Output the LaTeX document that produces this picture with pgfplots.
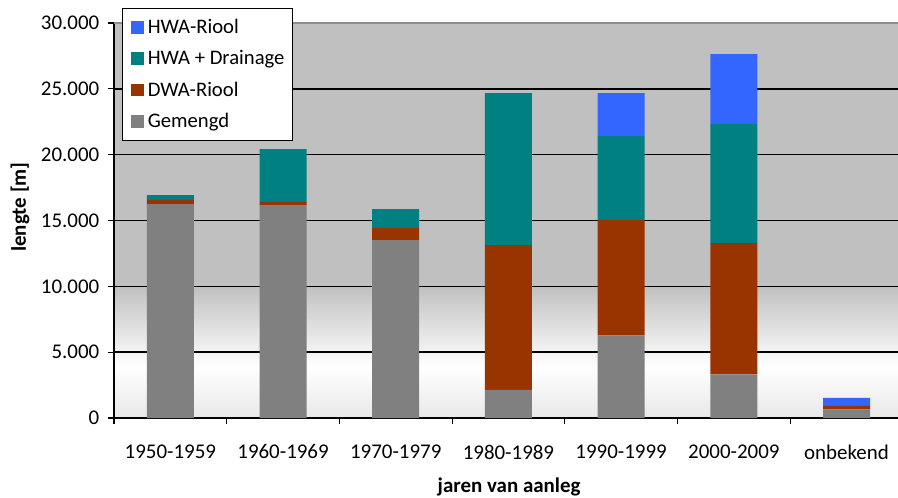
\documentclass[border=0pt]{standalone}
\usepackage{fontspec}
\setmainfont{Carlito}
\usepackage{pgfplots}
\pgfplotsset{compat=1.18}

\definecolor{hwariool}{HTML}{3366FF}
\definecolor{hwadrain}{HTML}{008080}
\definecolor{dwariool}{HTML}{993300}
\definecolor{gemengd}{HTML}{808080}
\definecolor{bggray}{HTML}{C0C0C0}
\definecolor{bglow}{HTML}{E8E8E8}

% background: light gray at 0, white near 4000, gray from 10000 up
\pgfdeclareverticalshading{bgshade}{100bp}{color(0bp)=(bglow); color(25bp)=(bglow);
  color(31.5bp)=(white); color(41.7bp)=(bggray); color(100bp)=(bggray)}

\begin{document}
\begin{tikzpicture}
\begin{axis}[
 name=ax,anchor=south west,
 scale only axis,width=588pt,height=296.25pt,
 xmin=-0.5,xmax=6.457,ymin=0,ymax=30000,
 axis background/.style={shading=bgshade},
 ybar stacked,bar width=0.417,
 axis lines=left,axis line style={-,black,line width=1pt},
 tick align=outside,tick pos=left,
 font=\fontsize{15.7}{18}\selectfont,
 xtick={0,...,6},
 xticklabels={1950-1959,1960-1969,1970-1979,1980-1989,1990-1999,2000-2009,onbekend},
 major x tick style={draw=none},
 minor xtick={-0.5,0.5,...,5.5},
 minor tick length=4.5pt,
 minor x tick style={black,line width=0.8pt},
 xticklabel shift=12pt,
 ytick={0,5000,...,25000},
 extra y ticks={30000},
 extra y tick style={grid style={black!45,line width=1.2pt}},
 ymajorgrids,grid style={black,line width=1.2pt},
 major tick length=4.5pt,
 y tick style={black,line width=0.8pt},
 yticklabel shift=3pt,
 scaled y ticks=false,
 /pgf/number format/.cd,1000 sep={.},assume math mode=true,
 /pgfplots/.cd,
 ylabel={\textbf{lengte [m]}},
 ylabel style={at={(axis description cs:-0.12,0.534)},anchor=center},
 xlabel={\textbf{jaren van aanleg}},
 xlabel style={at={(axis description cs:0.504,-0.175)},anchor=center},
 reverse legend,
 legend image code/.code={\fill[#1] (2pt,-4.75pt) rectangle (11.75pt,4.75pt);\path (0pt,0pt) (13pt,0pt);},
 legend style={at={(axis description cs:0.0102,1.038)},anchor=north west,
   draw=black,fill=white,line width=0.8pt,font=\fontsize{15.5}{18}\selectfont,
   row sep=7.3pt,inner xsep=4pt,inner ysep=6pt,cells={anchor=west}},
]
% Gemengd
\addplot[fill=gemengd,draw=none] coordinates {(0,16240) (1,16165) (2,13505) (3,2128) (4,6284) (5,3321) (6,661)};
% DWA-Riool
\addplot[fill=dwariool,draw=none] coordinates {(0,327) (1,251) (2,912) (3,10996) (4,8740) (5,9955) (6,251)};
% HWA + Drainage
\addplot[fill=hwadrain,draw=none] coordinates {(0,357) (1,4004) (2,1443) (3,11550) (4,6384) (5,9044) (6,0)};
% HWA-Riool
\addplot[fill=hwariool,draw=none] coordinates {(0,0) (1,0) (2,0) (3,0) (4,3262) (5,5320) (6,608)};
\legend{Gemengd,DWA-Riool,HWA + Drainage,HWA-Riool}
\end{axis}
\pgfresetboundingbox
\path[use as bounding box] ([shift={(-85.5pt,-59.25pt)}]ax.south west) rectangle ++(673.5pt,372.75pt);
\end{tikzpicture}
\end{document}
